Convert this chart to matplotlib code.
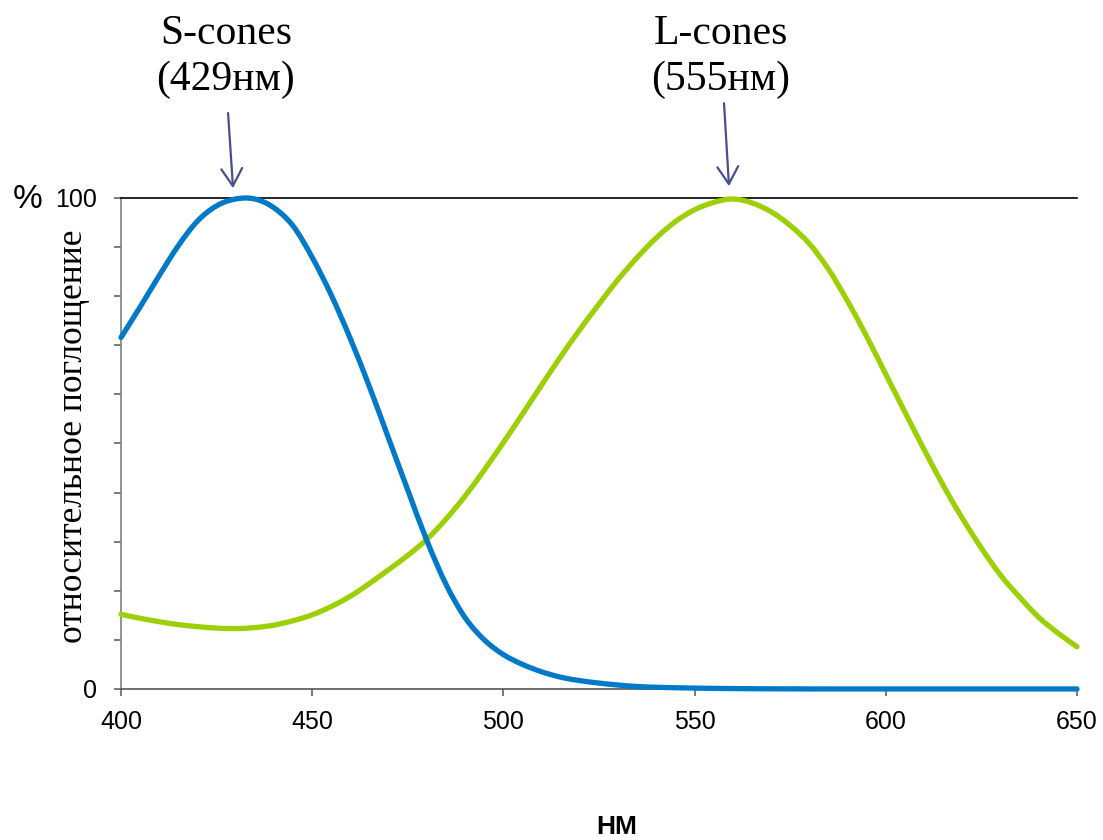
import numpy as np
import matplotlib
matplotlib.use('Agg')
from matplotlib import pyplot as plt
from matplotlib.ticker import MultipleLocator
from matplotlib.path import Path
from matplotlib.patches import PathPatch

# длины волн, нм
wavelength = np.arange(400, 655, 5)

# S-колбочки (синяя кривая), %
s_cones = [71.6, 77.8, 84.2, 90.3, 95.3, 98.4, 99.8, 99.8, 98.0, 94.3,
           87.9, 80.2, 71.3, 61.5, 51.0, 40.5, 30.2, 21.3, 14.5, 10.0,
           7.0, 5.0, 3.5, 2.4, 1.7, 1.2, 0.8, 0.5, 0.35, 0.25,
           0.18, 0.12, 0.08, 0.05, 0.03, 0.02, 0.01, 0, 0, 0,
           0, 0, 0, 0, 0, 0, 0, 0, 0, 0, 0]

# L-колбочки (зелёная кривая), %
l_cones = [15.2, 14.4, 13.7, 13.1, 12.7, 12.4, 12.3, 12.5, 13.0, 13.9,
           15.1, 16.8, 18.9, 21.5, 24.3, 27.2, 30.5, 34.6, 39.3, 44.6,
           50.2, 56.0, 61.9, 67.7, 73.2, 78.4, 83.4, 87.9, 91.9, 95.2,
           97.6, 99.1, 99.8, 99.0, 97.2, 94.4, 90.7, 85.5, 79.0, 71.8,
           64.1, 56.4, 48.8, 41.5, 34.8, 28.7, 23.2, 18.7, 14.6, 11.4, 8.6]

labels = ["S-cones\n(429нм)", "L-cones\n(555нм)"]
arrow_tips = [(429.3, 102.0), (559.0, 102.4)]
arrow_tails = [(428.0, 117.3), (557.7, 119.3)]
label_x = [226, 721]


def smooth_path(x, y):
    # сглаженная линия как в Excel (Catmull-Rom -> кривые Безье)
    p = np.column_stack([x, y]).astype(float)
    p = np.vstack([p[0], p, p[-1]])
    verts = [p[1]]
    codes = [Path.MOVETO]
    for i in range(1, len(p) - 2):
        c1 = p[i] + (p[i + 1] - p[i - 1]) / 6
        c2 = p[i + 1] - (p[i + 2] - p[i]) / 6
        verts += [c1, c2, p[i + 1]]
        codes += [Path.CURVE4] * 3
    return Path(verts, codes)


fig = plt.figure(figsize=(11.03, 8.4), dpi=100)
ax = fig.add_axes([0.1097, 0.1798, 0.8667, 0.5845])

for vals, col, z in [(l_cones, '#9DD004', 4), (s_cones, '#0079C8', 5)]:
    patch = PathPatch(smooth_path(wavelength, vals), facecolor='none', edgecolor=col,
                      lw=3.8, capstyle='round', joinstyle='round', clip_on=False, zorder=z)
    ax.add_patch(patch)

ax.set_xlim(400, 650)
ax.set_ylim(0, 100)
ax.set_xticks(np.arange(400, 651, 50))
ax.set_yticks([0, 100])
ax.yaxis.set_minor_locator(MultipleLocator(10))

ax.spines['right'].set_visible(False)
ax.spines['top'].set_color('black')
ax.spines['top'].set_linewidth(1.2)
ax.spines['left'].set_color('#808080')
ax.spines['bottom'].set_color('#555555')
ax.spines['left'].set_linewidth(1.2)
ax.spines['bottom'].set_linewidth(1.2)

ax.tick_params(axis='both', which='both', direction='out', length=5, width=1.1,
               color='#555555', labelsize=18)
ax.tick_params(axis='x', pad=10)
ax.tick_params(axis='y', pad=12)
for lab in ax.get_xticklabels() + ax.get_yticklabels():
    lab.set_fontfamily('Liberation Sans')

ax.set_ylabel('относительное поглощение', fontsize=25.5, family='Liberation Serif')
ax.yaxis.set_label_coords(-0.032, 0.514)

fig.text(28 / 1103, 1 - 200 / 840, '%', fontsize=24, family='Liberation Sans',
         ha='center', va='center')
fig.text(617 / 1103, 1 - 827 / 840, 'НМ', fontsize=19, family='Liberation Sans',
         weight='bold', ha='center', va='center')

# подписи пиков со стрелками
for txt, tip, tail, tx in zip(labels, arrow_tips, arrow_tails, label_x):
    ax.annotate('', xy=tip, xytext=tail,
                arrowprops=dict(arrowstyle='->, head_length=0.5, head_width=0.3',
                                color='#4B4D8C', lw=1.6, mutation_scale=25,
                                shrinkA=0, shrinkB=0),
                annotation_clip=False)
    fig.text(tx / 1103, 1 - 57 / 840, txt, fontsize=30, family='Liberation Serif',
             ha='center', va='center', linespacing=1.25)

fig.savefig('out.png', dpi=100)
